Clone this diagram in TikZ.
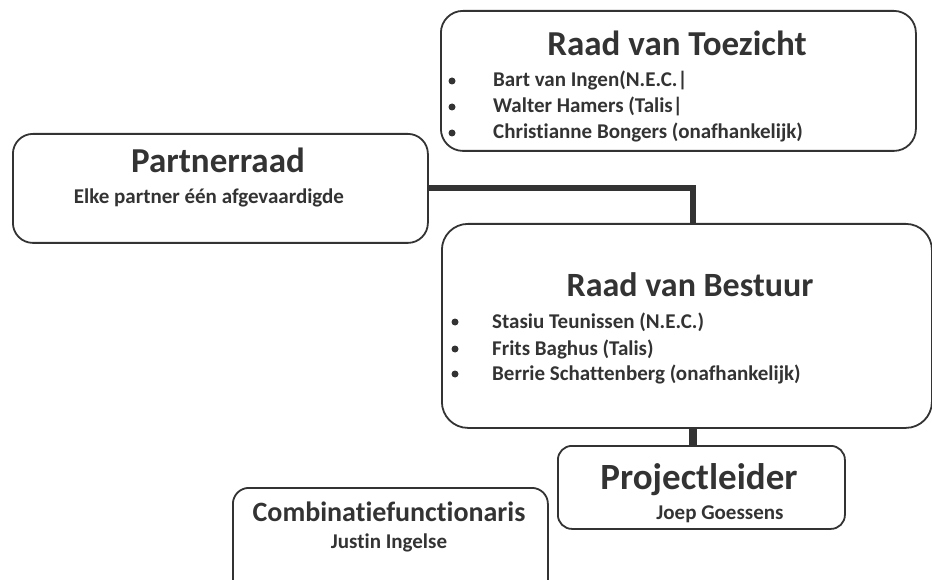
\documentclass[tikz,border=0pt]{standalone}
\usepackage{fontspec}
\setmainfont[Ligatures=NoCommon]{Carlito}
\definecolor{ink}{HTML}{333333}
\begin{document}
\begin{tikzpicture}[x=1pt,y=-1pt,
  box/.style={draw=ink,line width=1.8pt,rounded corners=#1,inner sep=0pt,anchor=north west},
  box/.default=20pt,
  title/.style={font=\fontsize{35}{37}\selectfont\bfseries,text=ink,inner sep=0pt,anchor=base},
  item/.style={font=\fontsize{21}{23}\selectfont\bfseries,text=ink,inner sep=0pt,anchor=base west},
  sub/.style={font=\fontsize{21}{23}\selectfont\bfseries,text=ink,inner sep=0pt,anchor=base},
  dot/.style={circle,fill=ink,inner sep=0pt,minimum size=7pt},
  conn/.style={draw=ink,line width=#1},
  conn/.default=6pt]
\clip (0,0) rectangle (932,580);
% boxes
\node[box=22pt,minimum width=475pt,minimum height=140pt] (toez) at (440,10) {};
\node[box=20pt,minimum width=415pt,minimum height=109pt] (partner) at (12,133) {};
\node[box=26pt,minimum width=490pt,minimum height=204pt] (bestuur) at (441,223) {};
\node[box=14pt,minimum width=287pt,minimum height=83pt] (project) at (557,445) {};
\node[box=16pt,minimum width=315pt,minimum height=120pt] (combi) at (232,487) {};
% connectors
\coordinate (pj) at (693,188);
\draw[conn] (partner.east |- pj) -| (bestuur.north -| pj);
\draw[conn=8pt] (bestuur.south -| pj) -- (project.north -| pj);
% Raad van Toezicht
\node[title] (toezT) at (677,56) {Raad van Toezicht};
\node[dot] (tb1) at (452,81) {};
\node[dot] (tb2) at (452,107) {};
\node[dot] (tb3) at (452,133) {};
\node[item] (ti1) at (493,87) {Bart van Ingen(N.E.C.|};
\node[item] (ti2) at (493,113) {Walter Hamers (Talis|};
\node[item] (ti3) at (493,139) {Christianne Bongers (onafhankelijk)};
% Partnerraad
\node[title] (partT) at (218,173) {Partnerraad};
\node[sub] (partS) at (209,204) {Elke partner één afgevaardigde};
% Raad van Bestuur
\node[title,font=\fontsize{34}{36}\selectfont\bfseries] (bestT) at (690,296) {Raad van Bestuur};
\node[dot] (bb1) at (455,322) {};
\node[dot] (bb2) at (455,349) {};
\node[dot] (bb3) at (455,374) {};
\node[item] (bi1) at (492,328) {Stasiu Teunissen (N.E.C.)};
\node[item] (bi2) at (492,355) {Frits Baghus (Talis)};
\node[item] (bi3) at (492,380) {Berrie Schattenberg (onafhankelijk)};
% Projectleider
\node[title,font=\fontsize{37}{39}\selectfont\bfseries] (projT) at (699,489) {Projectleider};
\node[sub] (projS) at (720,519) {Joep Goessens};
% Combinatiefunctionaris
\node[title,font=\fontsize{28}{30}\selectfont\bfseries] (combT) at (389,521) {Combinatiefunctionaris};
\node[sub] (combS) at (389,548) {Justin Ingelse};
\end{tikzpicture}
\end{document}
